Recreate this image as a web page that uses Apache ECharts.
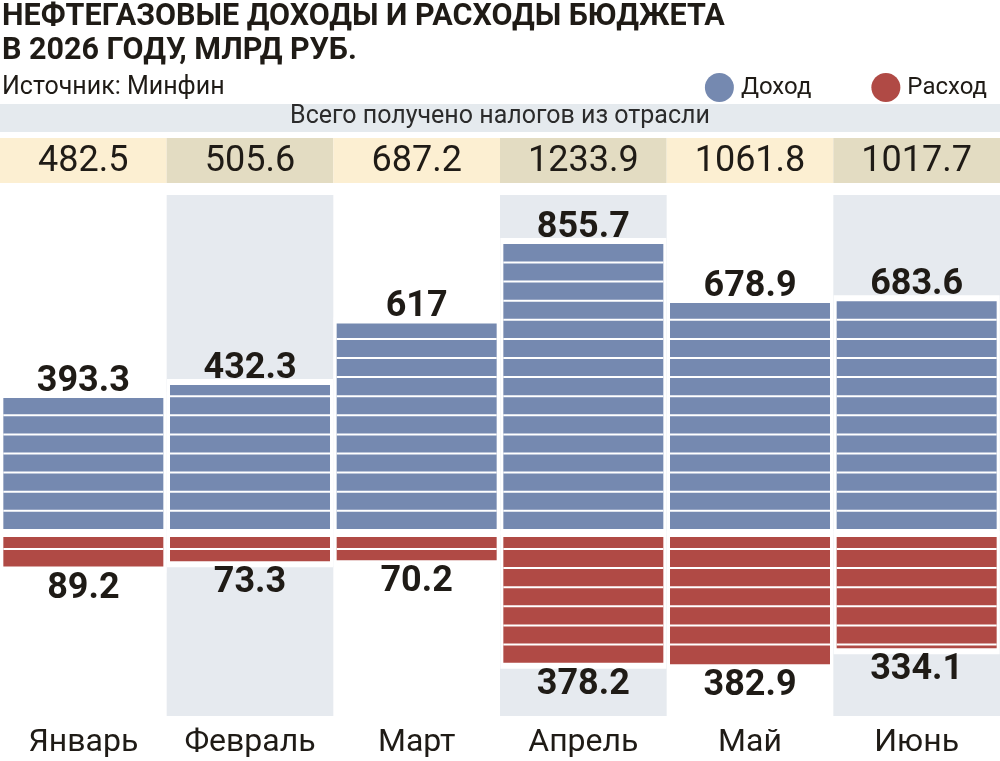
<!DOCTYPE html>
<html>
<head>
<meta charset="utf-8">
<script src="https://cdn.jsdelivr.net/npm/echarts@6/dist/echarts.min.js"></script>
<style>
  html, body { margin: 0; padding: 0; background: #fff; }
  #chart { width: 1000px; height: 761px; }
</style>
</head>
<body>
<div id="chart"></div>
<script>
// данные: Минфин, млрд руб.
var months = ['Январь', 'Февраль', 'Март', 'Апрель', 'Май', 'Июнь'];
var totalTaxes = [482.5, 505.6, 687.2, 1233.9, 1061.8, 1017.7];
var income = [393.3, 432.3, 617, 855.7, 678.9, 683.6];
var expense = [89.2, 73.3, 70.2, 378.2, 382.9, 334.1];

var BLUE = '#7589b0', RED = '#b04a45', GRAY = '#e6eaef', INK = '#1f1b16';
var CELL_A = '#fcefd2', CELL_B = '#e3dcc2';
var FONT = 'Roboto, "Noto Sans", sans-serif';

var chart = echarts.init(document.getElementById('chart'));

function bandOf(api, i) {
    var c = api.coord([i, 0]);
    return { cx: c[0], w: api.size([1, 0])[0], zero: c[1] };
}

// белые горизонтальные полосы, общий шаг от нулевой линии
function stripes(x, w, yTop, yBot, anchor) {
    var out = [], step = 19.1;
    var k = Math.ceil((yTop - anchor) / step);
    for (var y = anchor + k * step; y < yBot - 1; y += step) {
        if (y <= yTop + 1) continue;
        out.push({ type: 'rect', shape: { x: x, y: y - 1, width: w, height: 2 }, style: { fill: '#fff' } });
    }
    return out;
}

function barRender(sign, color) {
    return function (params, api) {
        var i = api.value(0), v = api.value(1);
        var b = bandOf(api, i);
        var end = api.coord([i, sign * v])[1];
        var bw = b.w * 0.96, x = b.cx - bw / 2, gap = 4;
        var yTop, yBot;
        if (sign > 0) { yTop = end - gap; yBot = b.zero - gap; }
        else { yTop = b.zero + gap; yBot = end + gap; }
        var kids = [
            { type: 'rect', shape: { x: x - 3, y: yTop - 6, width: bw + 6, height: yBot - yTop + 12 }, style: { fill: '#fff' } },
            { type: 'rect', shape: { x: x, y: yTop, width: bw, height: yBot - yTop }, style: { fill: color } }
        ].concat(stripes(x, bw, yTop, yBot, b.zero - 3));
        kids.push({
            type: 'text',
            x: b.cx,
            y: sign > 0 ? yTop + 2 : yBot + 4,
            style: {
                text: String(v), fill: INK, fontFamily: FONT, fontSize: 36, fontWeight: 'bold',
                align: 'center', verticalAlign: sign > 0 ? 'bottom' : 'top'
            }
        });
        return { type: 'group', children: kids };
    };
}

var option = {
    animation: false,
    title: {
        text: 'НЕФТЕГАЗОВЫЕ ДОХОДЫ И РАСХОДЫ БЮДЖЕТА\nВ 2026 ГОДУ, МЛРД РУБ.',
        subtext: 'Источник: Минфин',
        left: 0, top: 0, padding: [0, 0, 0, 2], itemGap: 6,
        textStyle: { fontFamily: FONT, fontSize: 30.5, fontWeight: 'bold', color: INK, lineHeight: 34 },
        subtextStyle: { fontFamily: FONT, fontSize: 25, color: INK, lineHeight: 28 }
    },
    legend: {
        data: ['Доход', 'Расход'],
        right: 8, top: 68,
        icon: 'circle', itemWidth: 29, itemHeight: 29, itemGap: 60,
        textStyle: { fontFamily: FONT, fontSize: 24, color: INK, padding: [0, 0, 0, 2] },
        selectedMode: false
    },
    graphic: [
        { type: 'rect', left: 0, top: 104, shape: { width: 1000, height: 28 }, style: { fill: '#e5eaee' }, silent: true },
        {
            type: 'text', left: 'center', top: 104,
            style: { text: 'Всего получено налогов из отрасли', fill: '#2b2b2b', fontFamily: FONT, fontSize: 25 }
        }
    ],
    grid: { left: 0, right: 0, top: 195, bottom: 45 },
    xAxis: {
        type: 'category', data: months,
        axisLine: { show: false }, axisTick: { show: false }, splitLine: { show: false },
        axisLabel: { interval: 0, fontFamily: FONT, fontSize: 32, color: INK, margin: 11 }
    },
    yAxis: { type: 'value', min: -550, max: 1015, show: false, splitLine: { show: false } },
    series: [
        {
            type: 'custom', name: 'фон', silent: true, z: 1,
            data: months.map(function (m, i) { return [i]; }),
            renderItem: function (params, api) {
                var i = api.value(0), b = bandOf(api, i), cs = params.coordSys;
                var kids = [];
                if (i % 2 === 1) {
                    kids.push({ type: 'rect', shape: { x: b.cx - b.w / 2, y: cs.y, width: b.w, height: cs.height }, style: { fill: GRAY } });
                }
                return { type: 'group', children: kids };
            }
        },
        {
            type: 'custom', name: 'Всего', silent: true, z: 2,
            data: totalTaxes.map(function (v, i) { return [i, v]; }),
            renderItem: function (params, api) {
                var i = api.value(0), b = bandOf(api, i), cs = params.coordSys;
                var top = cs.y - 57, h = 45;
                return {
                    type: 'group', children: [
                        { type: 'rect', shape: { x: b.cx - b.w / 2, y: top, width: b.w, height: h }, style: { fill: i % 2 ? CELL_B : CELL_A } },
                        {
                            type: 'text', x: b.cx, y: top + h / 2 + 1,
                            style: { text: String(api.value(1)), fill: INK, fontFamily: FONT, fontSize: 36, align: 'center', verticalAlign: 'middle' }
                        }
                    ]
                };
            }
        },
        {
            type: 'custom', name: 'Доход', z: 3,
            itemStyle: { color: BLUE },
            data: income.map(function (v, i) { return [i, v]; }),
            renderItem: barRender(1, BLUE)
        },
        {
            type: 'custom', name: 'Расход', z: 3,
            itemStyle: { color: RED },
            data: expense.map(function (v, i) { return [i, v]; }),
            renderItem: barRender(-1, RED)
        }
    ]
};

chart.setOption(option);
</script>
</body>
</html>
